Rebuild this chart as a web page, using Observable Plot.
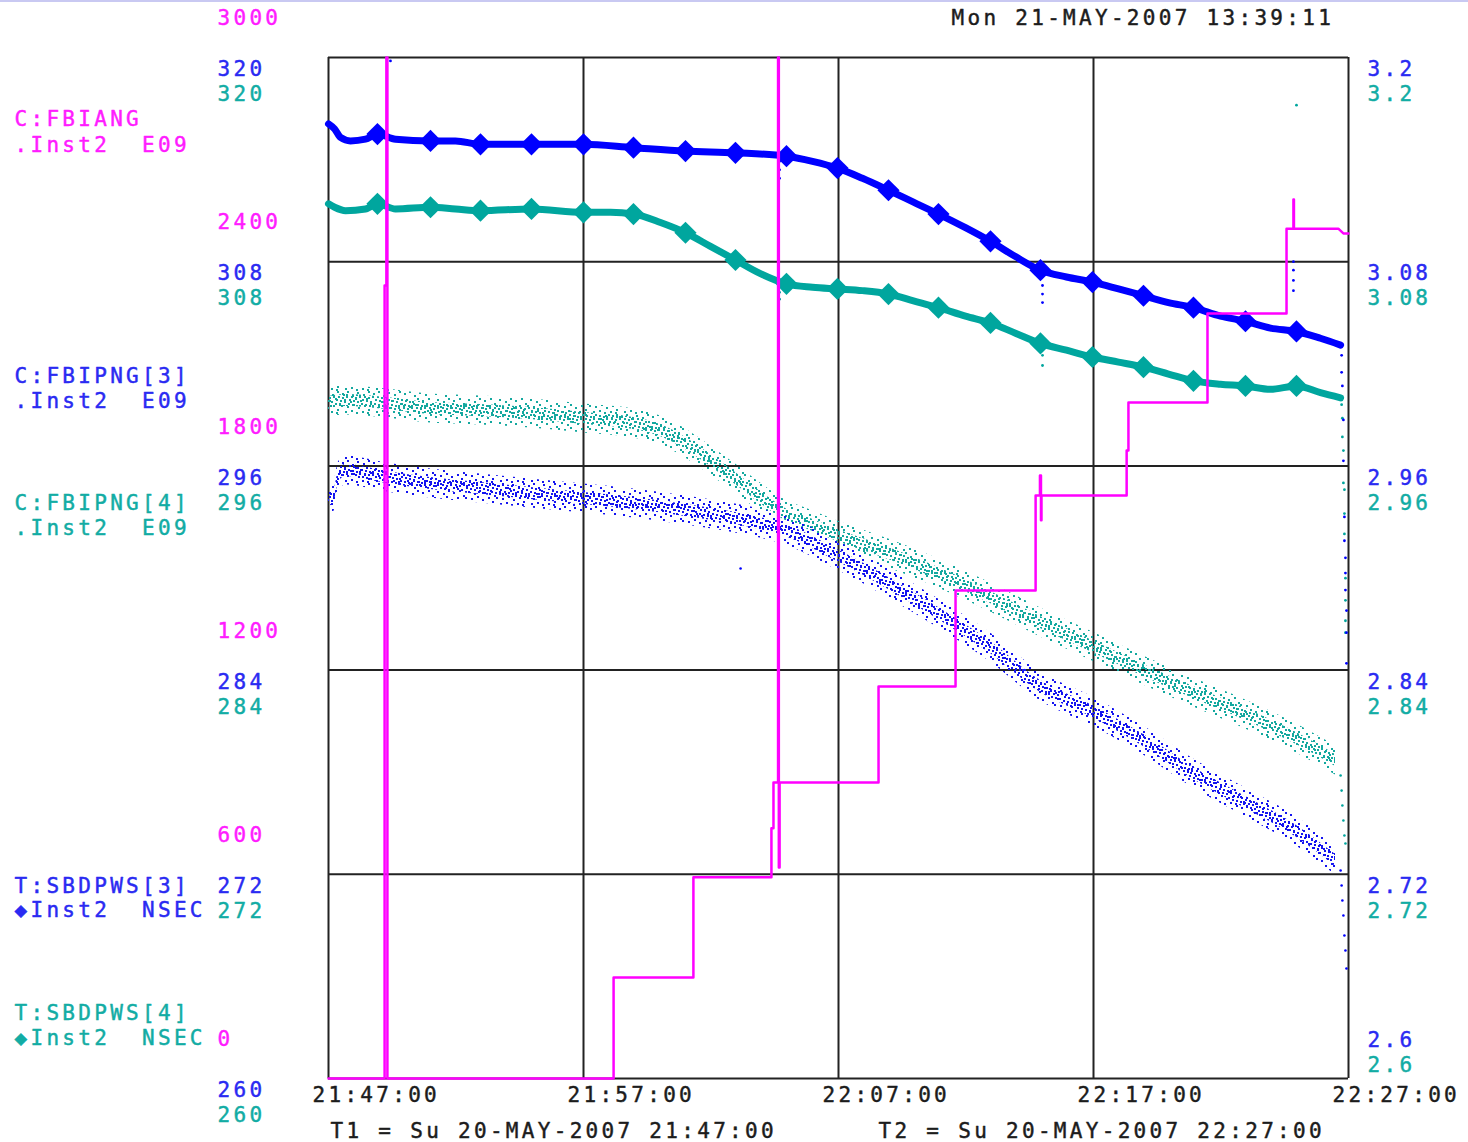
<!DOCTYPE html>
<html><head><meta charset="utf-8">
<script src="https://cdn.jsdelivr.net/npm/d3@7"></script>
<script src="https://cdn.jsdelivr.net/npm/@observablehq/plot@0.6"></script>
<style>
html,body{margin:0;padding:0;background:#fff;overflow:hidden}
#topline{position:absolute;left:0;top:0;width:1468px;height:2px;background:#c9c9f2}
</style></head>
<body><div id="chart"></div><div id="topline"></div>
<script>
// ---------- data (minutes after 21:47:00 on 20-MAY-2007) ----------
const startTime = "2007-05-20T21:47:00Z";
const endTime = "2007-05-20T22:27:00Z";
const xTickMinutes = [0, 10, 20, 30, 40];
const xTickLabels = ["21:47:00", "21:57:00", "22:07:00", "22:17:00", "22:27:00"];
const angTicks = [0, 600, 1200, 1800, 2400, 3000];
const pngTicks = [260, 272, 284, 296, 308, 320];
const sbdTicks = [2.6, 2.72, 2.84, 2.96, 3.08, 3.2];

// C:FBIANG (magenta, left axis 0..3000)
const angT = [0,2.2,2.2,2.27,2.27,2.31,2.31,11.18,11.18,14.31,14.31,17.37,17.37,17.45,17.45,17.63,17.63,17.66,17.66,17.69,17.69,21.57,21.57,24.59,24.59,27.73,27.73,27.9,27.9,27.94,27.94,27.96,27.96,31.3,31.3,31.37,31.37,34.47,34.47,37.57,37.57,37.84,37.84,37.86,37.86,39.6,39.8,40];
const angV = [0,0,2330,2330,3000,3000,0,0,297,297,591,591,735,735,870,870,3000,3000,620,620,870,870,1152,1152,1434,1434,1713,1713,1772,1772,1640,1640,1713,1713,1845,1845,1986,1986,2248,2248,2497,2497,2583,2583,2497,2497,2483,2483];

// C:FBIPNG[3] (blue cloud, left axis 260..320)
const png3T = [0,0.2,0.39,0.67,2.27,4.0,5.96,7.92,10.0,11.96,14.0,15.96,17.92,19.96,21.96,23.92,25.96,27.92,29.96,31.96,33.92,35.96,37.96,39.49];
const png3V = [293.97,294.14,295.38,295.73,295.32,294.97,294.67,294.38,294.08,293.79,293.38,292.91,292.20,290.73,289.09,287.33,285.33,283.04,281.57,279.86,277.92,276.22,274.52,272.81];
const png3TailT = [39.69,39.73,39.76,39.8,39.84,39.88,39.92,16.16];
const png3TailV = [272.22,271.34,270.46,269.58,268.40,267.52,266.46,289.97];

// C:FBIPNG[4] (teal cloud, left axis 260..320)
const png4T = [0,0.67,2.27,4.0,5.96,7.92,10.0,11.96,13.02,14.0,14.98,15.96,16.94,17.92,18.9,19.96,21.96,23.92,25.96,27.92,29.96,31.96,33.92,35.96,37.96,39.49];
const png4V = [299.73,299.84,299.67,299.37,299.26,299.08,298.79,298.49,298.08,297.32,296.32,295.26,294.14,293.14,292.56,291.91,290.85,289.68,288.27,286.80,285.39,283.98,282.68,281.39,279.98,278.69];
const png4TailT = [39.69,39.73,39.76,39.8,39.84,39.88];
const png4TailV = [277.81,276.92,276.04,275.16,274.28,273.81];

// T:SBDPWS[3] (blue diamonds, right axis 2.6..3.2)
const sbd3T = [0,0.24,0.47,0.86,1.45,1.92,2.63,4.0,4.98,5.96,7.96,10.0,11.96,14.0,15.96,17.96,18.98,19.96,20.94,21.96,22.94,23.92,24.98,25.96,26.94,27.92,28.94,29.96,30.98,31.96,32.94,33.92,34.98,35.96,36.94,37.96,38.9,39.69];
const sbd3V = [3.161,3.158,3.153,3.151,3.152,3.155,3.152,3.151,3.151,3.149,3.149,3.149,3.147,3.145,3.144,3.142,3.139,3.135,3.129,3.122,3.115,3.108,3.100,3.092,3.083,3.075,3.071,3.068,3.064,3.060,3.056,3.053,3.048,3.045,3.041,3.039,3.035,3.031];
const sbd3DotT = [39.73,39.73,39.76,39.8,39.8,39.84,39.84,39.88,39.88,39.88,39.92,39.92,39.92,2.43,17.69,17.69,17.69,28.0,28.0,28.0,37.84,37.84,37.84,37.84];
const sbd3DotV = [3.025,3.015,3.007,2.987,2.963,2.930,2.916,2.906,2.897,2.887,2.875,2.862,2.844,3.198,3.139,3.134,3.129,3.066,3.061,3.056,3.080,3.075,3.069,3.063];

// T:SBDPWS[4] (teal diamonds, right axis 2.6..3.2)
const sbd4T = [0,0.24,0.67,1.45,1.92,2.63,4.0,4.98,5.96,7.96,10.0,11.06,11.96,13.02,14.0,14.98,15.96,16.94,17.96,18.98,19.96,20.94,21.96,22.94,23.92,24.98,25.96,26.94,27.92,28.94,29.96,30.98,31.96,32.94,33.92,34.98,35.96,36.94,37.96,38.9,39.69];
const sbd4V = [3.114,3.112,3.110,3.111,3.114,3.111,3.112,3.111,3.110,3.111,3.109,3.109,3.108,3.103,3.097,3.089,3.081,3.073,3.067,3.065,3.064,3.063,3.061,3.057,3.053,3.048,3.044,3.038,3.032,3.028,3.024,3.021,3.018,3.014,3.010,3.008,3.007,3.005,3.007,3.003,3.000];
const sbd4DotT = [39.73,39.76,39.76,39.8,39.8,39.84,39.84,39.84,39.88,39.88,39.88,39.88,17.69,17.69,28.0,28.0,37.96];
const sbd4DotV = [2.996,2.988,2.977,2.969,2.950,2.946,2.932,2.920,2.894,2.881,2.869,2.862,3.062,3.058,3.025,3.019,3.172];

// diamond marker times (every ~2 minutes)
const markerT = [1.92,4.0,5.96,7.96,10.0,11.96,14.0,15.96,17.96,19.96,21.96,23.92,25.96,27.92,29.96,31.96,33.92,35.96,37.96];

// ---------- helpers ----------
const t0 = new Date(startTime), t1 = new Date(endTime);
const toDate = m => new Date(t0.getTime() + m * 60000);
const pngToY = d3.scaleLinear([260, 320], [0, 3000]);
const sbdToY = d3.scaleLinear([2.6, 3.2], [0, 3000]);
const rows = (T, V) => T.map((t, i) => ({date: toDate(t), t, v: V[i]}));

const ang = rows(angT, angV);
const png3 = rows(png3T, png3V), png3Tail = rows(png3TailT, png3TailV);
const png4 = rows(png4T, png4V), png4Tail = rows(png4TailT, png4TailV);
const sbd3 = rows(sbd3T, sbd3V), sbd3Dots = rows(sbd3DotT, sbd3DotV);
const sbd4 = rows(sbd4T, sbd4V), sbd4Dots = rows(sbd4DotT, sbd4DotV);
const isMarker = d => markerT.some(m => Math.abs(m - d.t) < 0.005);

const MAG = "#ff00ff", BLUE = "#0000ff", TEAL = "#00a69e";
const MAG_T = "#ff1cff", BLUE_T = "#2a2af2", TEAL_T = "#12aca4", INK = "#1c1c1c";
const font = {fontFamily: "DejaVu Sans Mono, Liberation Mono, monospace", fontSize: 21, textAnchor: "start", lineAnchor: "middle", strokeWidth: 0.45};
const NB = "\u00a0";
const lbl = (color) => ({fill: color, stroke: color, ...font});

const legend = (txt, color, dy) =>
  Plot.text([txt], {text: d => d, frameAnchor: "top-left", dx: -314, dy, ...lbl(color)});

const chart = Plot.plot({
  width: 1468, height: 1142,
  marginLeft: 328, marginRight: 120, marginTop: 57, marginBottom: 64,
  x: {type: "utc", domain: [t0, t1], axis: null},
  y: {domain: [0, 3000], axis: null},
  style: {background: "white", letterSpacing: "3.3px", overflow: "visible"},
  marks: [
    // grid + frame
    Plot.ruleX(xTickMinutes, {x: m => toDate(m), stroke: "#222", strokeWidth: 2}),
    Plot.ruleY(angTicks, {y: d => d, stroke: "#222", strokeWidth: 2}),

    // FBIPNG clouds
    Plot.areaY(png4, {x: "date", y1: d => pngToY(d.v - 0.85), y2: d => pngToY(d.v + 0.85), fill: "url(#tealSparse)", curve: "monotone-x"}),
    Plot.areaY(png4, {x: "date", y1: d => pngToY(d.v - 0.35), y2: d => pngToY(d.v + 0.35), fill: "url(#tealDense)", curve: "monotone-x"}),
    Plot.areaY(png3, {x: "date", y1: d => pngToY(d.v - 0.85), y2: d => pngToY(d.v + 0.85), fill: "url(#blueSparse)", curve: "monotone-x"}),
    Plot.areaY(png3, {x: "date", y1: d => pngToY(d.v - 0.35), y2: d => pngToY(d.v + 0.35), fill: "url(#blueDense)", curve: "monotone-x"}),
    Plot.dot(png4Tail, {x: "date", y: d => pngToY(d.v), r: 1.3, fill: TEAL}),
    Plot.dot(png3Tail, {x: "date", y: d => pngToY(d.v), r: 1.3, fill: BLUE}),

    // SBDPWS lines with diamonds
    Plot.line(sbd4, {x: "date", y: d => sbdToY(d.v), stroke: TEAL, strokeWidth: 7, curve: "monotone-x"}),
    Plot.dot(sbd4.filter(isMarker), {x: "date", y: d => sbdToY(d.v), symbol: "diamond2", r: 10, fill: TEAL}),
    Plot.dot(sbd4Dots, {x: "date", y: d => sbdToY(d.v), r: 1.4, fill: TEAL}),
    Plot.line(sbd3, {x: "date", y: d => sbdToY(d.v), stroke: BLUE, strokeWidth: 7, curve: "monotone-x"}),
    Plot.dot(sbd3.filter(isMarker), {x: "date", y: d => sbdToY(d.v), symbol: "diamond2", r: 10, fill: BLUE}),
    Plot.dot(sbd3Dots, {x: "date", y: d => sbdToY(d.v), r: 1.4, fill: BLUE}),

    // FBIANG step trace
    Plot.line(ang, {x: "date", y: "v", stroke: MAG, strokeWidth: 2.5, curve: "linear"}),

    // left axis labels
    Plot.text(angTicks, {y: d => d, text: d => String(d), frameAnchor: "left", dx: -111, dy: -39, ...lbl(MAG_T)}),
    Plot.text(pngTicks, {y: d => pngToY(d), text: d => String(d), frameAnchor: "left", dx: -111, dy: 12, ...lbl(BLUE_T)}),
    Plot.text(pngTicks, {y: d => pngToY(d), text: d => String(d), frameAnchor: "left", dx: -111, dy: 37, ...lbl(TEAL_T)}),
    // right axis labels
    Plot.text(sbdTicks.slice(1), {y: d => sbdToY(d), text: d => String(d), frameAnchor: "right", dx: 19, dy: 12, ...lbl(BLUE_T)}),
    Plot.text(sbdTicks.slice(1), {y: d => sbdToY(d), text: d => String(d), frameAnchor: "right", dx: 19, dy: 37, ...lbl(TEAL_T)}),
    Plot.text(sbdTicks.slice(0, 1), {y: d => sbdToY(d), text: d => String(d), frameAnchor: "right", dx: 19, dy: -38, ...lbl(BLUE_T)}),
    Plot.text(sbdTicks.slice(0, 1), {y: d => sbdToY(d), text: d => String(d), frameAnchor: "right", dx: 19, dy: -13, ...lbl(TEAL_T)}),
    // time axis labels
    Plot.text(xTickMinutes, {x: m => toDate(m), text: (m, i) => xTickLabels[i], frameAnchor: "bottom", dx: -16, dy: 17, ...lbl(INK)}),

    // header and captions
    Plot.text(["Mon 21-MAY-2007 13:39:11"], {text: d => d, frameAnchor: "top-left", dx: 623, dy: -39, ...lbl(INK)}),
    Plot.text(["T1 = Su 20-MAY-2007 21:47:00"], {text: d => d, frameAnchor: "bottom-left", dx: 2, dy: 53, ...lbl(INK)}),
    Plot.text(["T2 = Su 20-MAY-2007 22:27:00"], {text: d => d, frameAnchor: "bottom-left", dx: 550, dy: 53, ...lbl(INK)}),

    // series legends
    legend("C:FBIANG", MAG_T, 62),
    legend(".Inst2" + NB + NB + "E09", MAG_T, 88),
    legend("C:FBIPNG[3]", BLUE_T, 319),
    legend(".Inst2" + NB + NB + "E09", BLUE_T, 344),
    legend("C:FBIPNG[4]", TEAL_T, 446),
    legend(".Inst2" + NB + NB + "E09", TEAL_T, 471),
    legend("T:SBDPWS[3]", BLUE_T, 829),
    legend("\u25C6Inst2" + NB + NB + "NSEC", BLUE_T, 853),
    legend("T:SBDPWS[4]", TEAL_T, 956),
    legend("\u25C6Inst2" + NB + NB + "NSEC", TEAL_T, 981)
  ]
});

// speckle textures for the scattered-sample clouds
function speck(id, color, w, h, pts, s) {
  return `<pattern id="${id}" width="${w}" height="${h}" patternUnits="userSpaceOnUse">` +
    pts.map(([x, y]) => `<rect x="${x}" y="${y}" width="${s}" height="${s}" fill="${color}"/>`).join("") +
    `</pattern>`;
}
const sparse = [[1,2],[6,0],[11,4],[16,1],[22,3],[27,0],[3,8],[9,10],[14,7],[19,9],[25,7],[29,12],[0,14],[6,15],[12,13],[17,16],[23,14],[27,18],[4,20],[10,19],[15,21],[21,20],[26,21]];
const dense = [[0,0],[4,1],[8,0],[11,3],[2,4],[6,5],[10,7],[1,8],[5,9],[8,9]];
chart.insertAdjacentHTML("afterbegin", "<defs>" +
  speck("tealSparse", "#14a89f", 31, 23, sparse, 2) +
  speck("tealDense", "#14a89f", 13, 11, dense, 2) +
  speck("blueSparse", "#1414f0", 31, 23, sparse, 2) +
  speck("blueDense", "#1414f0", 13, 11, dense, 2) +
  "</defs>");

document.getElementById("chart").appendChild(chart);
</script>
</body></html>
